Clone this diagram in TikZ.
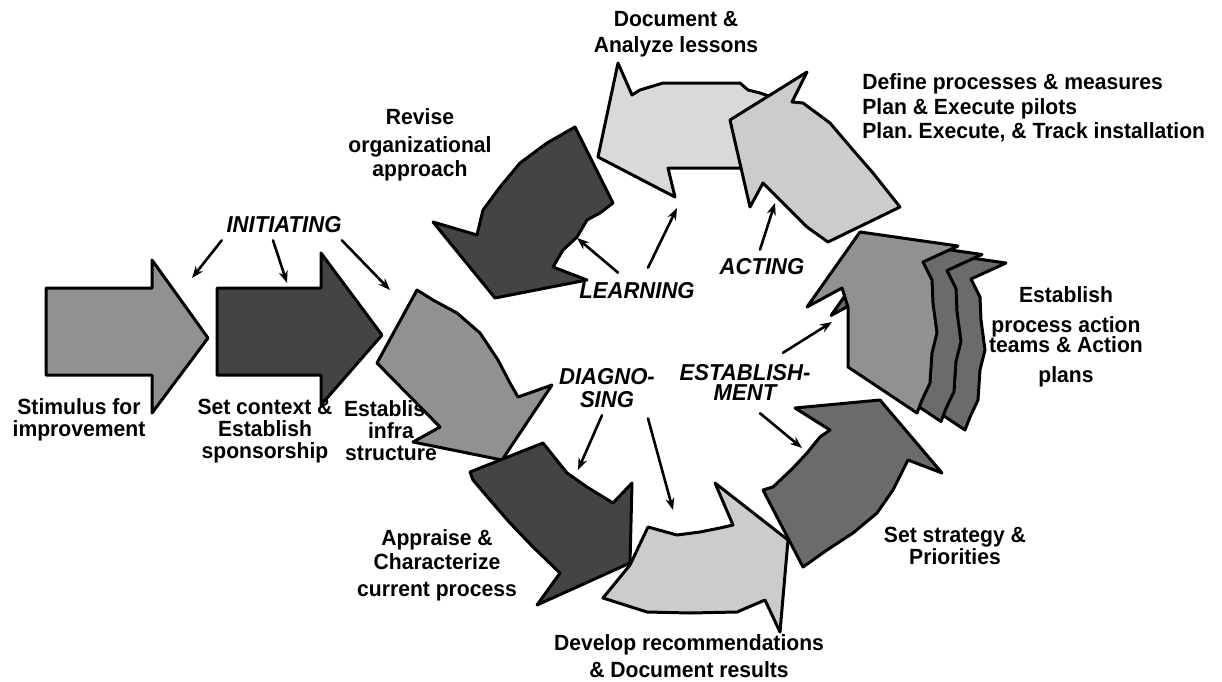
\documentclass[tikz,border=0pt]{standalone}
\usepackage{fontspec}
\setmainfont{Liberation Sans}[FakeStretch=0.96]
\usetikzlibrary{arrows.meta}
\definecolor{lightg}{HTML}{D9D9D9}
\definecolor{paleg}{HTML}{CCCCCC}
\definecolor{midg}{HTML}{919191}
\definecolor{slateg}{HTML}{6B6B6B}
\definecolor{darkg}{HTML}{444444}
\frenchspacing
\begin{document}
\begin{tikzpicture}[x=0.5pt, y=-0.5pt, line join=round, line cap=round, >={Stealth[length=6pt,width=4.5pt]},
		font=\bfseries\fontsize{11}{11}\selectfont,
		blk/.style={draw=black, line width=1.5pt, fill=#1},
		lbl/.style={align=center, inner sep=0pt},
		phase/.style={lbl, font=\bfseries\itshape\fontsize{11.5}{11.5}\selectfont},
		ptr/.style={->, line width=1.3pt}]
	\useasboundingbox (0,0) rectangle (1222,681);
	% initiating
	\filldraw[blk=midg] (46,288) -- (152,288) -- (152,260) -- (208,338) -- (152,413) -- (152,375) -- (46,375) -- cycle;
	\filldraw[blk=darkg] (217,288) -- (321,288) -- (321,253) -- (382,335) -- (321,405) -- (321,375) -- (217,375) -- cycle;
	\node[lbl] (stim) at (79,420) {Stimulus for\\improvement};
	\node[lbl] (ctx) at (265,431) {Set context \&\\Establish\\sponsorship};
	\node[lbl] (infra) at (391,431) {Establish\\infra\\structure};
	\filldraw[blk=midg] (417,290) -- (433,300) -- (457,313) -- (480,333) -- (498,360) -- (510,383) -- (518,397) -- (552,385) -- (502,460) -- (413,442) -- (440,427) -- (377,363) -- cycle;
	% diagnosing
	\filldraw[blk=darkg] (470,472) -- (543,443) -- (567,473) -- (587,487) -- (613,503) -- (632,483) -- (630,563) -- (537,605) -- (560,573) -- (533,547) -- (510,523) -- (490,500) -- (473,480) -- cycle;
	\filldraw[blk=slateg] (795,408) -- (880,400) -- (942,473) -- (908,460) -- (893,490) -- (877,513) -- (853,533) -- (827,550) -- (803,567) -- (763,490) -- (773,487) -- (793,468) -- (807,453) -- (820,437) -- (830,430) -- cycle;
	\filldraw[blk=paleg] (648,527) -- (677,535) -- (700,532) -- (720,528) -- (733,525) -- (715,483) -- (788,540) -- (780,632) -- (765,600) -- (737,612) -- (690,613) -- (647,612) -- (603,598) -- (630,565) -- cycle;
	% learning and acting
	\filldraw[blk=lightg] (618,63) -- (632,95) -- (640,90) -- (663,83) -- (740,83) -- (748,90) -- (760,93) -- (775,98) -- (775,168) -- (668,168) -- (675,197) -- (598,157) -- cycle;
	\filldraw[blk=paleg] (807,72) -- (792,102) -- (803,103) -- (830,123) -- (853,150) -- (873,173) -- (900,207) -- (828,242) -- (807,227) -- (787,207) -- (763,183) -- (750,207) -- (730,120) -- cycle;
	% establishing, stacked
	\foreach \s/\c in {2/slateg,1/slateg,0/midg}
	\filldraw[blk=\c, shift={(24*\s,8.5*\s)}] (860,232) -- (958,246) -- (923,262) -- (932,280) -- (933,303) -- (937,333) -- (932,353) -- (930,383) -- (922,400) -- (917,413) -- (848,367) -- (848,307) -- (842,288) -- (807,307) -- cycle;
	\filldraw[blk=darkg] (575,127) -- (613,203) -- (600,213) -- (587,220) -- (577,237) -- (563,250) -- (553,267) -- (587,280) -- (495,298) -- (433,222) -- (477,235) -- (483,210) -- (500,187) -- (520,163) -- (547,143) -- cycle;
	% texts
	\node[lbl] (revise) at (420,145) {Revise\\[3pt]organizational\\[1pt]approach};
	\node[lbl] (lessons) at (676,34) {Document \&\\[2pt]Analyze lessons};
	\node[lbl, align=left, anchor=west] (define) at (862,108) {Define processes \& measures\\[1.2pt]Plan \& Execute pilots\\[1.2pt]Plan. Execute, \& Track installation};
	\node[lbl] (teams) at (1066,337) {Establish\\[4pt]process action\\[-1pt]teams \& Action\\[4pt]plans};
	\node[lbl] (strat) at (955,546) {Set strategy \&\\Priorities};
	\node[lbl] (recom) at (689,656) {Develop recommendations\\[2.5pt]\& Document results};
	\node[lbl] (appr) at (437,565) {Appraise \&\\[1pt]Characterize\\[2.5pt]current process};
	\node[phase] (init) at (284,225) {INITIATING};
	\node[phase] (learn) at (637,291) {LEARNING};
	\node[phase] (act) at (762,267) {ACTING};
	\node[phase] (diag) at (607,388) {DIAGNO-\\SING};
	\node[phase] (estab) at (745,382) {ESTABLISH-\\[-1.5pt]MENT};
	% pointers
	\foreach \n/\x/\y in {ia/192/278, ib/287/283, ic/390/290, la/577/238, lb/677/208, aa/775/203, ea/832/322, eb/802/448, da/578/470, db/673/510}
	\coordinate (\n) at (\x,\y);
	\draw[ptr] ([shift={(-2.2pt,-3.4pt)}]init.south west) -- (ia);
	\draw[ptr] ([shift={(-5.5pt,-3.4pt)}]init.south) -- (ib);
	\draw[ptr] ([shift={(0pt,-3.4pt)}]init.south east) -- (ic);
	\draw[ptr] ([shift={(-9.5pt,4.9pt)}]learn.north) -- (la);
	\draw[ptr] ([shift={(5.5pt,7.4pt)}]learn.north) -- (lb);
	\draw[ptr] ([shift={(-1pt,4.4pt)}]act.north) -- (aa);
	\draw[ptr] ([shift={(19pt,5.4pt)}]estab.north) -- (ea);
	\draw[ptr] ([shift={(7.5pt,-6.4pt)}]estab.south) -- (eb);
	\draw[ptr] ([shift={(-2.5pt,-3.6pt)}]diag.south) -- (da);
	\draw[ptr] ([shift={(20.5pt,-5.2pt)}]diag.south) -- (db);
\end{tikzpicture}
\end{document}
